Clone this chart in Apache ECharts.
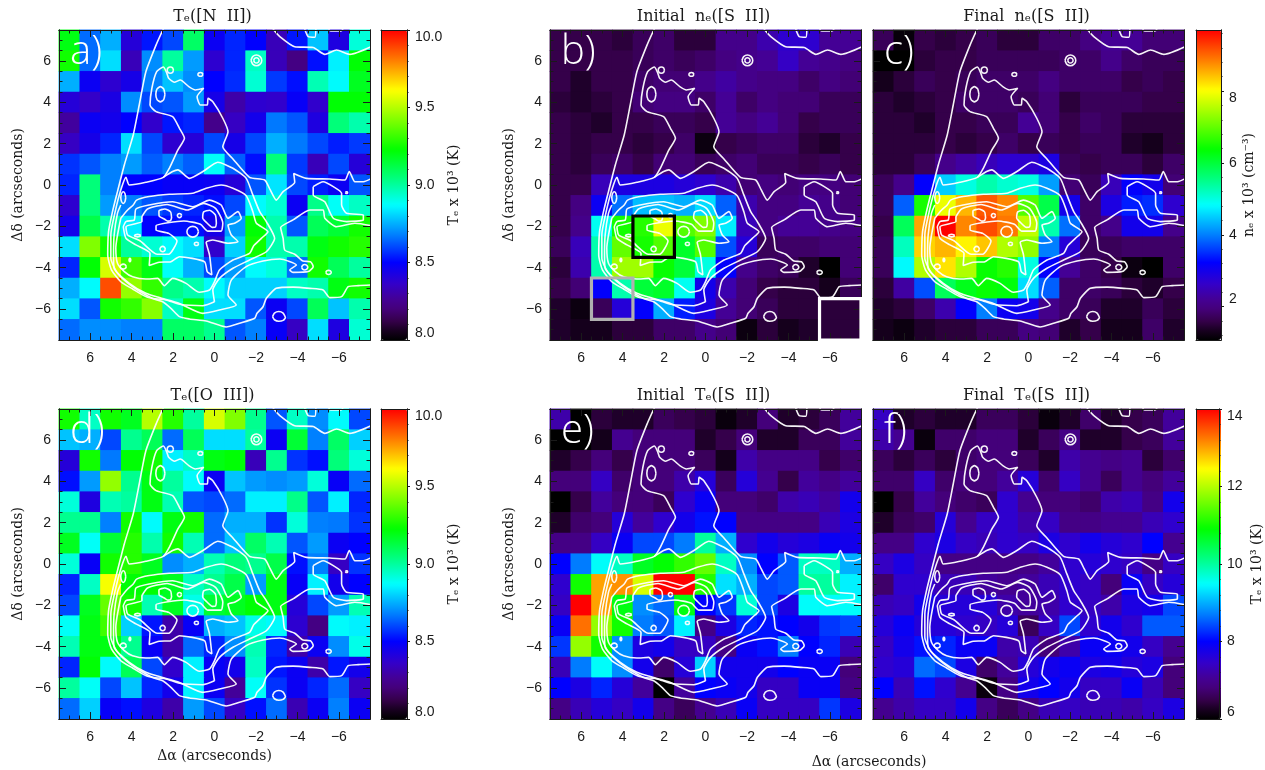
<!DOCTYPE html>
<html><head><meta charset="utf-8">
<script src="https://cdn.jsdelivr.net/npm/echarts@6/dist/echarts.min.js"></script>
<style>html,body{margin:0;padding:0;background:#fff}#c{width:1265px;height:770px}</style></head>
<body><div id="c"></div>
<script>
// Cell centres in arcseconds
const xCats=[7,6,5,4,3,2,1,0,-1,-2,-3,-4,-5,-6,-7];
const yCats=[7,6,5,4,3,2,1,0,-1,-2,-3,-4,-5,-6,-7];
const majorTicks=[6,4,2,0,-2,-4,-6];
const minorTicks=[-7,-6.5,-5.5,-5,-4.5,-3.5,-3,-2.5,-1.5,-1,-0.5,0.5,1,1.5,2.5,3,3.5,4.5,5,5.5,6.5,7];

// Values per row, y=+7 (top) to y=-7 (bottom), x=+7 (left) to x=-7 (right)
const teNII=[
[9.2,8.65,8.75,8.4,8.53,8.6,9.08,8.47,8.55,8.5,8.33,8.53,8.78,8.42,8.92],
[9.25,8.65,8.82,8.33,8.7,9.0,8.72,8.38,8.55,8.95,8.33,8.22,8.52,8.85,9.22],
[8.75,8.47,8.38,8.44,8.68,8.78,8.7,8.5,8.56,8.93,8.58,8.52,8.97,8.87,9.18],
[8.4,8.36,8.43,8.7,8.6,8.62,8.72,8.44,8.3,8.38,8.37,8.48,8.37,9.22,9.22],
[8.28,8.47,8.45,8.5,8.37,8.53,8.55,8.24,8.35,8.45,8.67,8.62,8.42,9.05,8.98],
[8.35,8.44,8.55,8.82,8.6,8.38,8.4,8.6,8.44,8.6,8.75,8.67,8.6,8.54,8.58],
[8.57,8.62,8.68,8.72,8.63,8.68,8.63,8.88,8.63,8.52,9.05,8.58,8.33,8.6,8.4],
[8.55,9.05,8.68,8.5,8.5,8.48,8.48,8.47,8.4,8.62,8.83,8.6,8.54,8.47,8.62],
[8.38,9.05,8.72,8.68,8.62,8.58,8.55,8.52,8.6,8.87,8.93,8.47,9.03,8.88,8.95],
[8.45,9.12,8.98,8.85,8.5,8.52,8.52,8.44,8.72,9.22,8.98,8.62,9.1,9.15,9.25],
[8.82,9.42,9.25,9.0,8.93,8.87,8.82,8.37,8.8,9.25,8.98,8.98,9.2,9.25,9.28],
[8.55,9.22,9.55,9.32,9.2,8.88,8.75,8.6,8.72,8.87,8.92,8.65,9.25,9.1,9.0],
[8.75,8.87,9.88,9.45,9.3,9.03,8.98,8.87,8.8,8.8,8.8,8.95,8.98,9.2,9.25],
[8.82,8.62,9.25,9.3,9.43,8.95,9.2,8.82,8.82,8.62,8.47,8.6,9.1,8.78,8.98],
[8.65,8.7,8.7,8.68,8.68,9.08,9.08,9.02,8.62,8.68,8.48,8.35,8.82,8.42,8.93]];
const teOIII=[
[9.25,8.95,9.25,9.18,9.5,9.28,9.0,9.55,9.42,9.02,8.62,8.95,8.7,8.87,8.6],
[8.78,8.75,8.6,9.02,9.1,8.65,9.1,8.82,8.82,9.0,8.47,9.15,8.68,9.08,8.8],
[8.4,9.25,8.67,9.22,9.25,8.85,8.95,9.2,9.22,8.33,9.02,8.57,8.52,9.05,8.92],
[8.52,8.72,9.45,9.02,9.2,9.0,8.87,8.47,8.78,8.72,8.7,8.72,8.92,8.48,8.65],
[8.92,8.42,8.97,9.0,9.2,8.97,8.62,8.6,8.65,8.85,8.85,9.03,8.62,8.85,8.55],
[9.02,9.02,8.68,9.25,8.87,9.2,9.25,8.65,8.75,8.75,8.57,8.92,8.68,8.67,8.57],
[9.18,8.88,9.15,9.28,8.98,9.25,8.97,8.65,8.78,9.08,8.97,8.62,8.72,8.47,8.5],
[8.92,8.48,9.25,9.28,9.18,8.7,8.75,8.97,9.05,9.02,9.12,8.52,8.68,8.35,8.57],
[8.55,8.95,9.6,9.22,9.22,9.18,8.95,9.02,9.12,8.72,9.2,8.48,8.85,8.45,8.5],
[8.6,9.18,9.38,9.25,8.97,9.18,8.9,9.15,9.18,9.22,9.2,8.4,8.6,8.72,8.97],
[8.88,9.2,9.32,8.8,8.53,8.3,8.48,8.75,8.78,8.9,8.87,8.38,8.22,8.87,8.85],
[8.97,9.2,9.2,9.02,8.48,8.3,8.65,8.55,8.7,8.97,8.55,8.3,8.47,8.7,8.9],
[8.55,9.22,8.87,9.1,8.6,8.37,8.85,8.48,8.45,8.95,8.53,8.47,8.3,8.53,8.45],
[9.0,8.88,8.6,8.78,8.55,8.45,8.85,8.47,8.27,8.88,8.57,8.47,8.55,8.65,8.35],
[8.65,8.8,8.48,8.52,8.42,8.3,8.72,8.6,8.35,8.52,8.65,8.32,8.47,8.68,8.47]];
const neInitial=[
[1.6,1.6,1.6,1.5,1.7,1.8,1.5,1.5,2.1,2.1,2.4,2.7,2.7,2.2,2.2],
[1.6,1.6,1.6,1.6,1.7,1.8,1.7,1.8,2.0,2.1,2.2,2.6,2.2,2.1,2.0],
[1.6,1.4,1.6,1.6,1.8,1.9,1.9,2.1,2.3,2.1,2.0,2.0,1.8,2.0,1.9],
[1.5,1.4,1.5,1.6,1.9,2.0,2.0,1.8,2.2,1.8,2.0,1.9,1.9,1.7,1.7],
[1.6,1.5,1.4,1.6,1.6,1.7,1.7,1.6,2.2,2.0,2.2,1.9,1.6,1.7,1.7],
[1.6,1.5,1.6,1.6,1.5,1.6,1.8,1.2,1.6,1.7,1.8,1.8,1.5,1.4,1.6],
[1.6,1.5,1.7,1.8,1.6,1.9,1.9,1.7,1.8,1.9,1.7,1.7,1.6,1.7,1.6],
[1.6,1.6,2.5,2.9,2.9,2.9,2.8,2.7,2.4,1.9,2.0,1.9,2.0,2.0,1.9],
[1.6,2.0,3.1,3.9,4.4,4.4,4.3,4.6,3.8,2.4,2.0,2.0,2.2,2.1,1.9],
[1.6,2.1,4.9,6.5,6.6,7.9,6.9,7.2,4.7,2.5,2.0,2.2,2.2,2.1,2.0],
[1.7,2.5,5.3,7.0,6.5,6.9,6.1,6.9,3.7,2.8,1.7,1.8,1.8,1.9,1.9],
[1.5,2.4,5.3,7.4,7.4,6.4,6.0,5.0,3.2,2.1,1.8,1.7,1.4,1.07,1.9],
[1.6,1.9,3.2,5.3,6.0,6.1,4.9,3.0,2.4,1.9,1.6,1.5,1.5,1.3,1.7],
[1.4,1.2,1.7,2.8,3.2,4.3,3.4,2.9,2.2,1.9,1.7,1.5,1.5,1.5,1.5],
[1.4,1.3,1.3,1.5,1.5,1.8,1.8,2.1,1.9,1.2,1.5,1.3,1.4,1.5,1.5]];
const neFinal=[
[1.7,1.15,1.6,1.5,1.6,1.7,1.5,1.5,1.8,1.8,2.0,2.2,2.2,1.9,1.9],
[1.07,1.07,1.5,1.6,1.6,1.7,1.7,1.7,1.7,1.8,1.8,2.1,1.8,1.7,1.7],
[1.3,1.5,1.7,1.6,1.7,1.8,1.8,1.8,2.0,1.8,1.8,1.8,1.6,1.7,1.6],
[1.5,1.4,1.5,1.6,1.8,1.8,1.8,1.7,1.9,1.5,1.7,1.7,1.7,1.6,1.6],
[1.5,1.5,1.4,1.6,1.6,1.7,1.7,2.2,1.9,1.6,1.8,1.7,1.5,1.5,1.5],
[1.5,1.5,1.5,1.6,1.5,1.6,1.8,1.6,1.7,1.6,1.7,1.7,1.4,1.3,1.5],
[1.5,1.5,1.7,2.1,2.3,2.5,2.7,2.7,2.9,1.7,1.6,1.7,1.7,1.5,1.8],
[1.7,2.1,3.2,4.5,5.0,5.3,5.1,5.0,4.2,1.9,1.7,2.5,3.2,3.0,1.9],
[1.7,3.8,6.5,7.9,8.5,9.1,8.8,6.9,5.9,3.0,1.8,2.9,3.4,3.5,2.7],
[1.6,5.8,8.6,9.7,8.8,9.2,8.9,7.6,5.3,3.9,1.8,2.1,3.0,3.0,2.1],
[1.7,5.2,8.3,8.5,8.1,8.4,7.5,7.3,4.0,2.8,1.7,1.7,1.8,1.8,1.8],
[1.7,4.8,7.5,8.2,7.5,6.4,6.6,5.0,3.2,2.2,1.8,1.6,1.2,1.07,1.8],
[1.5,2.3,3.7,5.8,6.2,6.4,6.3,4.6,3.8,1.8,1.8,1.7,1.5,1.4,1.6],
[1.4,1.5,1.8,2.4,3.2,4.0,3.1,3.0,2.1,1.8,1.7,1.4,1.4,1.7,1.5],
[1.3,1.2,1.4,1.5,1.5,1.7,1.7,2.0,1.9,1.4,1.6,1.3,1.3,1.8,1.4]];
const teInitial=[
[7.2,6.0,6.4,6.3,6.3,6.6,6.5,6.4,6.1,6.3,6.8,6.3,6.4,6.6,7.1],
[6.0,6.0,6.2,7.0,6.8,6.8,6.8,6.3,6.5,6.8,6.3,6.3,6.6,6.6,7.1],
[6.3,6.5,6.8,6.5,6.8,6.8,6.8,6.6,6.2,7.2,6.9,6.9,6.9,6.5,6.7],
[6.8,6.8,7.4,6.7,6.8,6.8,7.2,7.6,6.6,7.6,7.0,6.5,7.1,6.9,7.1],
[6.0,6.5,7.1,6.8,6.8,6.6,7.5,7.9,6.8,6.8,6.7,7.2,7.3,7.1,7.8],
[6.3,6.7,6.8,7.6,7.1,7.5,7.8,8.1,8.0,6.9,6.9,6.9,6.9,7.3,7.7],
[6.9,6.9,7.4,7.9,8.4,8.4,8.7,10.0,9.0,7.5,7.8,7.6,7.7,7.9,7.8],
[8.0,8.7,9.5,9.8,10.7,10.9,11.2,11.5,9.8,8.8,8.0,8.5,9.8,9.8,9.0],
[7.5,11.0,13.0,13.1,12.2,14,14,11.1,9.3,9.0,8.4,8.5,10.0,10.0,9.4],
[7.4,14,13.0,10.8,8.8,8.6,10.8,8.0,8.3,9.7,8.4,7.7,9.5,9.5,9.5],
[7.9,13.3,11.8,11,8.7,8.5,9.4,6.9,7.7,8.2,8.1,8.0,7.8,8.3,8.4],
[8.3,11.8,11,8.8,7.7,7.8,7.4,7.4,6.9,7.9,8.1,8.7,8.0,8.2,7.3],
[7.3,8.7,9.5,8.8,7.8,6.7,7.6,9.2,7.8,7.8,7.8,8.0,7.9,7.9,6.8],
[8.0,7.7,8.2,7.6,7.1,6.0,7.1,8.0,7.9,7.8,7.4,7.4,7.9,7.9,6.9],
[6.9,7.3,7.6,7.4,7.8,6.9,6.6,7.0,7.3,7.9,7.4,7.4,7.4,8.3,7.7]];
const teFinal=[
[7.4,6.3,6.4,6.3,6.3,6.6,6.6,6.4,6.1,6.3,6.7,6.3,6.5,6.6,7.1],
[7.2,7.0,6.1,6.7,6.7,6.8,6.8,6.3,6.6,6.9,6.3,6.3,6.5,6.6,7.1],
[6.6,6.4,6.6,6.4,6.7,6.8,6.8,6.6,6.3,7.2,7.0,6.9,7.0,6.4,6.7],
[6.7,6.7,7.4,6.7,6.8,6.8,7.1,7.6,6.7,7.4,7.0,6.6,7.0,6.8,7.1],
[6.0,6.5,7.1,6.8,6.7,6.6,7.5,7.0,6.8,6.8,6.7,7.2,7.3,6.9,7.8],
[6.3,6.6,6.7,7.6,7.0,7.4,7.5,7.2,7.4,6.9,6.9,7.0,7.0,7.3,7.5],
[6.9,6.9,7.5,7.7,7.4,7.3,7.5,7.4,7.7,7.5,7.8,7.6,7.5,8.0,7.0],
[7.4,7.7,7.4,6.9,6.9,6.9,6.9,6.9,7.1,7.5,7.6,7.5,7.4,6.9,7.4],
[6.7,7.5,7.5,7.3,7.3,7.1,7.0,7.1,7.3,7.5,7.4,6.8,7.9,7.4,7.6],
[7.3,7.4,7.8,7.6,7.6,7.6,7.2,7.1,7.2,7.5,7.4,7.2,7.7,7.8,8.4],
[7.6,7.9,7.6,7.6,7.5,7.4,7.6,6.6,7.4,8.4,7.5,7.8,7.5,8.5,8.5],
[7.4,7.8,8.1,8.2,7.9,7.9,7.2,7.3,6.8,7.2,7.9,7.9,7.8,7.4,7.0],
[7.5,7.6,8.6,8.4,7.7,6.7,7.1,7.6,7.8,7.9,7.7,7.8,7.6,7.7,6.8],
[8.0,7.3,8.1,7.5,7.0,6.1,6.9,7.8,8.0,7.8,7.4,7.4,7.9,7.3,6.8],
[7.0,7.2,7.4,7.4,7.8,6.9,6.6,6.9,7.3,7.4,7.3,7.3,7.2,7.4,7.7]];

// Contours, arcseconds [dRA, dDec]
const cOuter=[[2.47,7.55],[2.82,6.77],[3.31,5.48],[3.63,3.87],[3.92,2.42],[4.35,.97],[4.68,-.32],[4.92,-1.29],[5.11,-2.26],[5.15,-3.39],[4.97,-4.11],[4.52,-4.68],[3.95,-5.03],[3.31,-5.4],[2.5,-5.65],[2.1,-5.97],[1.69,-6.37],[1.21,-6.48],[.4,-6.58],[-.56,-6.87],[-1.21,-6.69],[-1.94,-6.45],[-2.05,-6.21],[-2.34,-5.89],[-2.5,-5.48],[-2.98,-5.0],[-3.79,-4.94],[-4.6,-5.0],[-5.24,-5.08],[-5.56,-5.45],[-6.13,-5.4],[-6.45,-4.92],[-6.94,-4.87],[-7.53,-4.84]];
const cLobe=[[-7.58,.32],[-7.18,.16],[-6.77,.16],[-6.5,.65],[-6.29,.24],[-5.56,.29],[-4.44,.32],[-3.82,.56],[-3.87,.13],[-3.31,-.32],[-2.98,-.73],[-2.69,-.24],[-2.42,.24],[-1.69,.37],[-.89,1.26],[-.4,1.85],[-.65,2.58],[-.4,3.23],[.08,4.03],[.31,4.19],[.35,3.87],[.68,3.87],[.84,4.27],[.52,4.68],[.92,4.6],[1.24,4.76],[1.65,5.08],[1.94,4.97],[2.21,5.16],[2.31,5.44],[2.47,5.71],[2.79,5.48],[3.02,4.68],[3.11,3.87],[2.82,3.55],[2.02,3.31],[1.69,2.74],[1.45,2.26],[1.77,1.69],[2.18,.81],[2.47,.37],[3.31,.13],[4.11,0],[4.27,.37],[4.52,-.24],[4.79,-1.29],[5,-2.42],[5,-3.55],[4.73,-4.19],[4.27,-4.68],[3.71,-5.08],[2.98,-5.48],[2.34,-5.56],[1.69,-5.77],[.56,-5.84],[0,-5.65]];
const cBridge=[[2.47,.37],[2.02,.65],[1.77,.73],[1.21,.32],[.56,.65],[-.16,1.1],[-.89,.81],[-1.53,.32],[-1.85,-.48],[-2.18,-1.29],[-2.5,-1.77],[-2.9,-2.58],[-2.5,-3.23],[-1.69,-3.63],[-.89,-4.03],[-.24,-4.52],[.08,-5.08],[0,-5.65]];
const cLower=[[-7.58,-1.97],[-6.77,-1.85],[-5.89,-2.02],[-5.32,-1.61],[-5.24,-1.21],[-4.6,-1.21],[-3.79,-1.69],[-3.19,-2.06],[-3.31,-2.58],[-3.39,-3.15],[-3.87,-3.35],[-4.27,-3.68],[-4.63,-3.71],[-4.76,-3.95],[-4.52,-4.19],[-3.79,-4.23],[-3.63,-4.11],[-3.95,-3.87],[-3.15,-3.58],[-2.34,-3.68],[-1.53,-3.95],[-.81,-4.6],[-.65,-5.32],[-1.05,-5.81],[-.24,-6.05],[.56,-6.21],[1.69,-5.73],[2.66,-5.45],[3.31,-5.24],[4.11,-4.76],[4.84,-4.03],[4.87,-3.39],[4.84,-2.42],[4.68,-1.37],[4.52,-.97]];
const cMid=[[4.52,-1.61],[4.19,-1.21],[3.92,-.97],[3.76,-.73],[3.15,-.56],[2.18,-.45],[1.05,-.4],[.4,-.16],[-.32,0],[-.89,-.16],[-1.53,-.52],[-1.85,-1.29],[-2.02,-1.85],[-2.58,-2.26],[-2.26,-2.58],[-1.89,-2.94],[-1.69,-3.31],[-.89,-3.63],[-.24,-4.11],[0,-4.68],[.24,-5.08],[.73,-5.19],[1.37,-4.76],[2.02,-4.52],[2.42,-4.87],[2.74,-4.52],[3.31,-4.55],[3.95,-4.44],[4.35,-4.19],[4.68,-3.79],[4.76,-3.06],[4.52,-1.61]];
const cInner=[[4.4,-2.02],[4.27,-1.77],[3.87,-1.69],[3.79,-1.16],[3.15,-.97],[2.02,-.81],[1.05,-1.05],[.24,-.73],[-.32,-.97],[-.65,-1.61],[-1.13,-1.29],[-1.29,-1.61],[-.97,-1.85],[-.65,-1.94],[-.81,-2.42],[-1.13,-2.74],[-.65,-2.82],[.08,-2.66],[.4,-2.77],[.24,-3.39],[.13,-4.35],[.35,-4.19],[.48,-3.71],[1.69,-3.47],[2.1,-3.71],[2.66,-3.74],[3.15,-3.9],[3.11,-3.31],[3.79,-2.9],[4.27,-2.58],[4.4,-2.02]];
const cCore=[[3.5,-1.53],[3.23,-1.16],[2.29,-.94],[1.32,-1.21],[.52,-.89],[-.05,-1.13],[-.4,-1.85],[-.32,-2.23],[.32,-2.23],[.68,-1.9],[1.48,-1.74],[2.82,-1.97],[2.82,-2.18],[2.21,-2.34],[1.81,-2.71],[2.21,-3.35],[2.77,-3.35],[3.58,-2.71],[4.19,-2.42],[4.27,-2.02],[3.5,-1.77],[3.5,-1.53]];
const cEastLoop=[[-4.76,-.08],[-5.24,.16],[-5.73,-.08],[-6.13,-.4],[-6.13,-.97],[-6.37,-1.37],[-7.18,-1.45],[-7.18,-1.69],[-6.37,-1.77],[-5.73,-1.61],[-5.32,-.81],[-4.76,-.48],[-4.76,-.08]];
const cTopRight=[[-2.82,7.55],[-3.15,7.18],[-3.87,6.69],[-4.76,6.65],[-5.32,6.32],[-5.89,6.53],[-6.53,6.32],[-7.55,6.69]];
const cTopNick=[[-4.35,7.55],[-4.52,7.18],[-4.84,7.15],[-4.89,7.55]];
const cTopSliver=[[-5.5,7.55],[-5.6,7.45],[-6.1,7.45],[-6.2,7.55]];
const cKnots=[
[[-1.76,6.03],[-1.84,6.21],[-2.02,6.29],[-2.2,6.21],[-2.28,6.03],[-2.2,5.85],[-2.02,5.77],[-1.84,5.85],[-1.76,6.03]],
[[-1.89,6.03],[-1.93,6.12],[-2.02,6.16],[-2.11,6.12],[-2.15,6.03],[-2.11,5.94],[-2.02,5.9],[-1.93,5.94],[-1.89,6.03]],
[[1.98,5.56],[2.02,5.67],[2.13,5.71],[2.24,5.67],[2.28,5.56],[2.24,5.45],[2.13,5.41],[2.02,5.45],[1.98,5.56]],
[[.56,5.35],[.6,5.42],[.68,5.44],[.76,5.42],[.8,5.35],[.76,5.28],[.68,5.26],[.6,5.28],[.56,5.35]],
[[2.39,4.39],[2.45,4.65],[2.61,4.76],[2.77,4.65],[2.83,4.39],[2.77,4.13],[2.61,4.02],[2.45,4.13],[2.39,4.39]],
[[4.28,-.61],[4.32,-.41],[4.4,-.33],[4.48,-.41],[4.52,-.61],[4.48,-.81],[4.4,-.89],[4.32,-.81],[4.28,-.61]],
[[2.07,-1.6],[2.12,-1.3],[2.4,-1.16],[2.68,-1.25],[2.67,-1.5],[2.4,-1.66],[2.25,-1.75],[2.12,-1.72],[2.07,-1.6]],
[[1.59,-1.48],[1.62,-1.41],[1.69,-1.38],[1.76,-1.41],[1.79,-1.48],[1.76,-1.55],[1.69,-1.58],[1.62,-1.55],[1.59,-1.48]],
[[-.09,-1.85],[-.04,-1.45],[.24,-1.22],[.52,-1.3],[.57,-1.6],[.35,-1.85],[.1,-2.05],[-.05,-2.03],[-.09,-1.85]],
[[.77,-2.26],[.85,-2.08],[1.05,-2.0],[1.25,-2.08],[1.33,-2.26],[1.25,-2.44],[1.05,-2.52],[.85,-2.44],[.77,-2.26]],
[[3.56,-2.45],[3.61,-2.41],[3.71,-2.39],[3.81,-2.41],[3.86,-2.45],[3.81,-2.49],[3.71,-2.51],[3.61,-2.49],[3.56,-2.45]],
[[.77,-2.85],[.8,-2.79],[.87,-2.77],[.94,-2.79],[.97,-2.85],[.94,-2.91],[.87,-2.93],[.8,-2.91],[.77,-2.85]],
[[2.37,-3.1],[2.41,-3.01],[2.5,-2.97],[2.59,-3.01],[2.63,-3.1],[2.59,-3.19],[2.5,-3.23],[2.41,-3.19],[2.37,-3.1]],
[[4.25,-3.95],[4.3,-3.86],[4.4,-3.83],[4.5,-3.86],[4.55,-3.95],[4.5,-4.04],[4.4,-4.07],[4.3,-4.04],[4.25,-3.95]],
[[4.04,-3.63],[4.05,-3.57],[4.08,-3.55],[4.11,-3.57],[4.12,-3.63],[4.11,-3.69],[4.08,-3.71],[4.05,-3.69],[4.04,-3.63]],
[[-4.2,-3.98],[-4.25,-3.89],[-4.35,-3.85],[-4.45,-3.89],[-4.5,-3.98],[-4.45,-4.07],[-4.35,-4.11],[-4.25,-4.07],[-4.2,-3.98]],
[[-5.37,-4.23],[-5.41,-4.16],[-5.5,-4.13],[-5.59,-4.16],[-5.63,-4.23],[-5.59,-4.3],[-5.5,-4.33],[-5.41,-4.3],[-5.37,-4.23]],
[[-2.8,-6.37],[-2.89,-6.2],[-3.1,-6.12],[-3.31,-6.2],[-3.42,-6.42],[-3.31,-6.55],[-3.1,-6.59],[-2.89,-6.52],[-2.8,-6.37]],
[[-6.32,-.37],[-6.34,-.33],[-6.37,-.32],[-6.4,-.33],[-6.42,-.37],[-6.4,-.41],[-6.37,-.42],[-6.34,-.41],[-6.32,-.37]]
];
const contours=[cOuter,cLobe,cBridge,cLower,cMid,cInner,cCore,cEastLoop,cTopRight,cTopNick,cTopSliver,...cKnots];

// Analysis boxes in panel b
const boxBlack=[[3.5,-1.5],[1.5,-1.5],[1.5,-3.5],[3.5,-3.5],[3.5,-1.5]];
const boxGray=[[5.5,-4.5],[3.5,-4.5],[3.5,-6.5],[5.5,-6.5],[5.5,-4.5]];
const boxWhite=[[-5.5,-5.5],[-7.5,-5.5],[-7.5,-7.5],[-5.5,-7.5],[-5.5,-5.5]];

// Colour bar scales
const teTicks=[8,8.5,9,9.5,10];
const teMinor=[8.1,8.2,8.3,8.4,8.6,8.7,8.8,8.9,9.1,9.2,9.3,9.4,9.6,9.7,9.8,9.9];
const neTicks=[2,4,6,8];
const neMinor=[1.2,1.6,2.4,2.8,3.2,3.6,4.4,4.8,5.2,5.6,6.4,6.8,7.2,7.6,8.4,8.8,9.2,9.6];
const tsTicks=[6,8,10,12,14];
const tsMinor=[6.4,6.8,7.2,7.6,8.4,8.8,9.2,9.6,10.4,10.8,11.2,11.6,12.4,12.8,13.2,13.6];

const stops=[[0,'#000000'],[.03,'#180020'],[.06,'#340048'],[.10,'#44007a'],[.13,'#440094'],[.18,'#3400c8'],[.25,'#0000ff'],[.34,'#0080ff'],[.435,'#00ffff'],[.52,'#00ff80'],[.613,'#00ff00'],[.71,'#80ff00'],[.806,'#ffff00'],[.9,'#ff8000'],[1,'#ff0000']];
function ramp(n){
  const hex=c=>[1,3,5].map(i=>parseInt(c.substr(i,2),16));
  const out=[];
  for(let k=0;k<=n;k++){
    const t=k/n;let i=0;
    while(i<stops.length-2&&t>stops[i+1][0])i++;
    const f=(t-stops[i][0])/(stops[i+1][0]-stops[i][0]);
    const a=hex(stops[i][1]),b=hex(stops[i+1][1]);
    out.push('rgb('+a.map((v,j)=>Math.round(v+(b[j]-v)*f)).join(',')+')');
  }
  return out;
}
const palette=ramp(100);

const ink='#1a1a1a';
const serif='"DejaVu Serif"';
const sans='"Liberation Sans"';
const fmt=v=>String(v).replace('-','\u2212');

const panels=[
 {id:'a)',title:'T\u2091([N  II])',vals:teNII,min:8,max:10,left:59,top:30,yName:true,bar:{left:381,w:26,ticks:teTicks,minor:teMinor,name:'T\u2091 x 10\u00b3 (K)',gap:40,dec:1}},
 {id:'b)',title:'Initial  n\u2091([S  II])',vals:neInitial,min:1.07,max:9.7,left:550,top:30,yName:true,boxes:true},
 {id:'c)',title:'Final  n\u2091([S  II])',vals:neFinal,min:1.07,max:9.7,left:873,top:30,bar:{left:1196,w:25,ticks:neTicks,minor:neMinor,name:'n\u2091 x 10\u00b3 (cm\u207b\u00b3)',gap:21,dec:0}},
 {id:'d)',title:'T\u2091([O  III])',vals:teOIII,min:8,max:10,left:59,top:409,yName:true,xName:true,bar:{left:381,w:26,ticks:teTicks,minor:teMinor,name:'T\u2091 x 10\u00b3 (K)',gap:40,dec:1}},
 {id:'e)',title:'Initial  T\u2091([S  II])',vals:teInitial,min:6,max:14,left:550,top:409,yName:true},
 {id:'f)',title:'Final  T\u2091([S  II])',vals:teFinal,min:6,max:14,left:873,top:409,bar:{left:1196,w:25,ticks:tsTicks,minor:tsMinor,name:'T\u2091 x 10\u00b3 (K)',gap:31,dec:0}}
];

const SIZE=311,HEIGHT=310;
const grid=[],xAxis=[],yAxis=[],series=[],visualMap=[],title=[];
const line={show:true,lineStyle:{color:ink,width:1},onZero:false};
function valAxis(dim,gi,pos,ticks,len,extra){
  const ax=Object.assign({type:'value',gridIndex:gi,position:pos,min:-7.5,max:7.5,inverse:dim==='x',z:5,
    axisLine:line,splitLine:{show:false},
    axisTick:{show:true,inside:true,length:len,customValues:ticks,lineStyle:{color:ink,width:1}},
    axisLabel:{show:false}},extra||{});
  (dim==='x'?xAxis:yAxis).push(ax);
  return (dim==='x'?xAxis:yAxis).length-1;
}
panels.forEach(p=>{
  // image layer
  const g0=grid.length;
  grid.push({left:p.left,top:p.top,width:SIZE,height:HEIGHT,containLabel:false,show:true,backgroundColor:'#2a0048',borderWidth:0});
  xAxis.push({type:'category',gridIndex:g0,data:xCats.map(String),show:false});
  yAxis.push({type:'category',gridIndex:g0,data:yCats.slice().reverse().map(String),show:false});
  const hx=xAxis.length-1,hy=yAxis.length-1;
  const cells=[];
  p.vals.forEach((row,r)=>row.forEach((v,c)=>cells.push([c,14-r,v])));
  const first=series.length;
  for(let k=0;k<2;k++) series.push({type:'heatmap',xAxisIndex:hx,yAxisIndex:hy,data:cells,z:1,silent:true,progressive:0,itemStyle:{borderWidth:0}});
  visualMap.push({type:'continuous',seriesIndex:[first,first+1],dimension:2,min:p.min,max:p.max,show:false,inRange:{color:palette},calculable:false});

  // major ticks, labels, contours
  const g1=grid.length;
  grid.push({left:p.left,top:p.top,width:SIZE,height:HEIGHT});
  const lab={show:true,margin:11,customValues:majorTicks,formatter:fmt,color:ink,fontFamily:sans,fontSize:14};
  const bx=valAxis('x',g1,'bottom',majorTicks,7,Object.assign({axisLabel:lab},p.xName?{name:'\u0394\u03b1 (arcseconds)',nameLocation:'middle',nameGap:30,nameTextStyle:{color:ink,fontFamily:serif,fontSize:14}}:{}));
  valAxis('x',g1,'top',majorTicks,7);
  const ly=valAxis('y',g1,'left',majorTicks,7,Object.assign(p.yName?{axisLabel:Object.assign({},lab,{margin:8}),name:'\u0394\u03b4 (arcseconds)',nameLocation:'middle',nameGap:34,nameTextStyle:{color:ink,fontFamily:serif,fontSize:14}}:{}));
  valAxis('y',g1,'right',majorTicks,7);
  contours.forEach(c=>series.push({type:'line',xAxisIndex:bx,yAxisIndex:ly,data:c,showSymbol:false,symbol:'none',smooth:.2,silent:true,z:3,clip:true,lineStyle:{color:'#fff',width:1.6,opacity:.95}}));
  if(p.boxes){
    [[boxBlack,'#000000'],[boxGray,'#b0b0b0'],[boxWhite,'#ffffff']].forEach(b=>series.push({type:'line',xAxisIndex:bx,yAxisIndex:ly,data:b[0],showSymbol:false,symbol:'none',silent:true,z:8,clip:false,lineStyle:{color:b[1],width:3.2,cap:'square',join:'miter'}}));
  }

  // minor ticks
  const g2=grid.length;
  grid.push({left:p.left,top:p.top,width:SIZE,height:HEIGHT});
  valAxis('x',g2,'bottom',minorTicks,3.5);
  valAxis('x',g2,'top',minorTicks,3.5);
  valAxis('y',g2,'left',minorTicks,3.5);
  valAxis('y',g2,'right',minorTicks,3.5);

  // labels
  title.push({text:p.title,left:p.left+SIZE/2-2,top:p.top-22,textAlign:'center',padding:0,textStyle:{color:ink,fontFamily:serif,fontWeight:'normal',fontSize:16,lineHeight:18}});
  title.push({text:p.id,left:p.left+11,top:p.top+1,padding:0,textStyle:{color:'#fff',fontFamily:'"Open Sans"',fontWeight:300,fontSize:40,lineHeight:44}});

  // colour bar
  if(p.bar){
    const b=p.bar,gb=grid.length;
    grid.push({left:b.left,top:p.top,width:b.w,height:HEIGHT});
    visualMap.push({type:'continuous',seriesIndex:[],dimension:2,min:p.min,max:p.max,show:true,left:b.left,top:p.top,padding:0,itemWidth:b.w,itemHeight:HEIGHT,text:null,calculable:false,hoverLink:false,inRange:{color:palette},textStyle:{color:'transparent'}});
    const xa={type:'value',gridIndex:gb,min:0,max:1,z:5,axisLine:line,axisTick:{show:false},axisLabel:{show:false},splitLine:{show:false}};
    xAxis.push(Object.assign({position:'bottom'},xa));
    xAxis.push(Object.assign({position:'top'},xa));
    const ya={type:'value',gridIndex:gb,min:p.min,max:p.max,z:5,position:'right',axisLine:line,splitLine:{show:false}};
    yAxis.push(Object.assign({},ya,{
      axisTick:{show:true,inside:false,length:3,customValues:b.ticks,lineStyle:{color:ink}},
      axisLabel:{show:true,inside:false,margin:8,customValues:b.ticks,color:ink,fontFamily:sans,fontSize:14,verticalAlignMinLabel:'bottom',verticalAlignMaxLabel:'top',formatter:v=>Number(v).toFixed(b.dec)},
      name:b.name,nameLocation:'middle',nameGap:b.gap,nameRotate:90,nameTextStyle:{color:ink,fontFamily:serif,fontSize:14}
    }));
    yAxis.push(Object.assign({},ya,{axisTick:{show:true,inside:false,length:1.5,customValues:b.minor,lineStyle:{color:ink}},axisLabel:{show:false}}));
    yAxis.push({type:'value',gridIndex:gb,min:p.min,max:p.max,position:'left',z:5,axisLine:line,axisTick:{show:false},axisLabel:{show:false},splitLine:{show:false}});
  }
});
title.push({text:'\u0394\u03b1 (arcseconds)',left:869,top:755,textAlign:'center',padding:0,textStyle:{color:ink,fontFamily:serif,fontWeight:'normal',fontSize:14}});

const chart=echarts.init(document.getElementById('c'),null,{renderer:'canvas'});
chart.setOption({animation:false,backgroundColor:'#fff',tooltip:{show:false},title,grid,xAxis,yAxis,visualMap,series});
</script></body></html>
